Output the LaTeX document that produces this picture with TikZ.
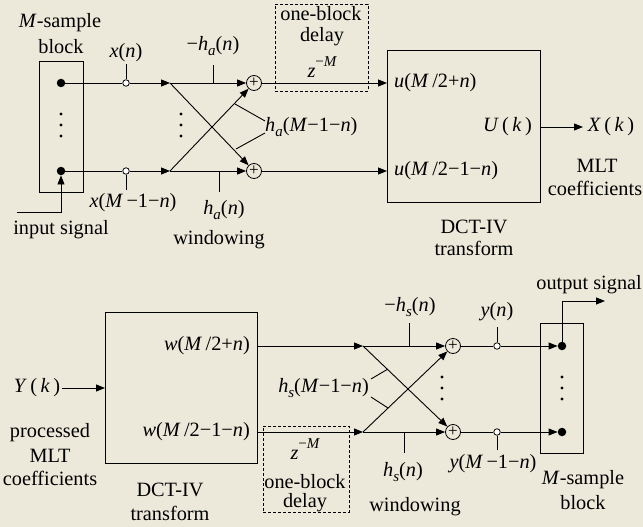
\documentclass[tikz,border=0pt]{standalone}
\usepackage{fontspec}
\setmainfont{Liberation Serif}
\usetikzlibrary{arrows.meta}
\definecolor{bgc}{RGB}{237,233,218}
\newcommand\vi[1]{\textit{#1}}
\newcommand\subs[1]{\raisebox{-0.28em}{\fontsize{15}{15}\selectfont\itshape #1}}
\newcommand\zM{\vi{z}\raisebox{0.55em}{\fontsize{15}{15}\selectfont −\itshape M}}
\begin{document}
\begin{tikzpicture}[x=1pt,y=-1pt,
  every node/.style={font=\fontsize{20.3}{23}\selectfont},
  ln/.style={line width=0.9pt},
  arr/.style={ln,-{Triangle[length=9pt,width=7pt]}},
  blk/.style={draw,line width=0.9pt,inner sep=0pt,anchor=north west},
  dbox/.style={draw,dash pattern=on 3pt off 2pt,line width=0.7pt,inner sep=0pt,anchor=north west},
  pc/.style={circle,draw,line width=0.8pt,inner sep=0pt,minimum size=15pt,font=\fontsize{17}{17}\selectfont},
  oc/.style={circle,draw,line width=0.8pt,fill=white,inner sep=0pt,minimum size=6.5pt},
  fd/.style={circle,fill,inner sep=0pt,minimum size=8.5pt},
  lbl/.style={inner sep=0pt,align=center}]
\useasboundingbox[fill=bgc] (0,0) rectangle (643,527);
% ================= TOP: analysis =================
\node[blk,minimum width=44pt,minimum height=131pt] (blkA) at (39,61) {};
\node[lbl] (msA) at (60,23) {\vi{M}-sample};
\node[lbl] (bkA) at (61,47) {block};
\node[fd] (d1) at (61,83) {};
\node[fd] (d2) at (61,171) {};
\foreach \yy in {114,125,136} \fill (61,\yy) circle (1.6);
\coordinate (in0) at (17,212);
\draw[arr] (in0) -| (d2);
\node[lbl] (insig) at (61,230) {input signal};
\node[oc] (o1) at (126,83) {};
\node[oc] (o2) at (126,171) {};
\coordinate (s1) at (170,83);
\coordinate (s2) at (170,171);
\node[pc] (p1) at (254,83) {+};
\node[pc] (p2) at (254,171) {+};
\draw[ln] (d1) -- (o1);
\draw[ln] (d2) -- (o2);
\draw[arr] (o1) -- (s1);
\draw[arr] (o2) -- (s2);
\draw[arr] (s1) -- (p1);
\draw[arr] (s2) -- (p2);
\draw[arr] (s1) -- (p2);
\draw[arr] (s2) -- (p1);
\foreach \yy in {114,125,136} \fill (181,\yy) circle (1.6);
% ticks and labels
\coordinate (tx1) at (126,64);
\coordinate (tx2) at (126,190);
\draw[ln] (o1) -- (tx1);
\draw[ln] (o2) -- (tx2);
\node[lbl] (lx1) at (126,53) {\vi{x}(\vi{n})};
\node[lbl] (lx2) at (133,203) {\vi{x}(\vi{M}\,−1−\vi{n})};
\coordinate (ta1) at (213,83);
\coordinate (ta1e) at (213,65);
\draw[ln] (ta1) -- (ta1e);
\node[lbl] (lha1) at (213,46) {−\vi{h}\subs{a}(\vi{n})};
\coordinate (ta2) at (219,171);
\coordinate (ta2e) at (219,192);
\draw[ln] (ta2) -- (ta2e);
\node[lbl] (lha2) at (224,210) {\vi{h}\subs{a}(\vi{n})};
\node[lbl] (winA) at (219,240) {windowing};
\node[lbl,anchor=west] (lhaM) at (265,127) {\vi{h}\subs{a}(\vi{M}−1−\vi{n})};
\coordinate (c1a) at (235,104);
\coordinate (c1b) at (265,121);
\coordinate (c2a) at (236,149);
\coordinate (c2b) at (265,133);
\draw[ln] (c1a) -- (c1b);
\draw[ln] (c2a) -- (c2b);
% delay box
\node[dbox,minimum width=93pt,minimum height=87pt] (dlA) at (275,4) {};
\node[lbl] (dlA1) at (321,14) {one-block};
\node[lbl] (dlA2) at (322,37) {delay};
\node[lbl] (dlA3) at (322,67) {\zM};
% DCT box
\node[blk,minimum width=153pt,minimum height=152pt] (dctA) at (387,50) {};
\draw[arr] (p1) -- (p1 -| dctA.west);
\draw[arr] (p2) -- (p2 -| dctA.west);
\node[lbl,anchor=west] (uA1) at (394,83) {\vi{u}(\vi{M}\,/2+\vi{n})};
\node[lbl,anchor=west] (uA2) at (394,171) {\vi{u}(\vi{M}\,/2−1−\vi{n})};
\node[lbl,anchor=east] (UkA) at (532,127) {\vi{U}\,(\,\vi{k}\,)};
\coordinate (outA) at (583,127);
\draw[arr] (UkA -| dctA.east) -- (outA);
\node[lbl] (XkA) at (611,127) {\vi{X}\,(\,\vi{k}\,)};
\node[lbl] (mltA) at (597,166) {MLT};
\node[lbl] (coefA) at (595,188) {coefficients};
\node[lbl] (dctA1) at (474,227) {DCT-IV};
\node[lbl] (dctA2) at (474,248) {transform};
% ================= BOTTOM: synthesis =================
\node[lbl] (YkB) at (37,388) {\vi{Y}\,(\,\vi{k}\,)};
\node[blk,minimum width=152pt,minimum height=151pt] (dctB) at (105,312) {};
\coordinate (yin) at (62,388);
\draw[arr] (yin) -- (yin -| dctB.west);
\node[lbl] (proc1) at (50,433) {processed};
\node[lbl] (proc2) at (50,456) {MLT};
\node[lbl] (proc3) at (50,478) {coefficients};
\node[lbl] (dctB1) at (170,490) {DCT-IV};
\node[lbl] (dctB2) at (170,513) {transform};
\node[lbl,anchor=east] (wB1) at (250,346) {\vi{w}(\vi{M}\,/2+\vi{n})};
\node[lbl,anchor=east] (wB2) at (250,432) {\vi{w}(\vi{M}\,/2−1−\vi{n})};
\coordinate (q1) at (363,346);
\coordinate (q2) at (363,432);
\draw[arr] (dctB.east |- q1) -- (q1);
\draw[arr] (dctB.east |- q2) -- (q2);
\node[pc] (pp1) at (453,346) {+};
\node[pc] (pp2) at (453,432) {+};
\draw[arr] (q1) -- (pp1);
\draw[arr] (q2) -- (pp2);
\draw[arr] (q1) -- (pp2);
\draw[arr] (q2) -- (pp1);
\foreach \yy in {377,388,399} \fill (442,\yy) circle (1.6);
% delay box
\node[dbox,minimum width=86pt,minimum height=86pt] (dlB) at (263,426) {};
\node[lbl] (dlB3) at (305,449) {\zM};
\node[lbl] (dlB1) at (305,482) {one-block};
\node[lbl] (dlB2) at (305,503) {delay};
% ticks
\coordinate (tb1) at (409,346);
\coordinate (tb1e) at (409,323);
\draw[ln] (tb1) -- (tb1e);
\node[lbl] (lhs1) at (410,307) {−\vi{h}\subs{s}(\vi{n})};
\coordinate (tb2) at (404,432);
\coordinate (tb2e) at (404,453);
\draw[ln] (tb2) -- (tb2e);
\node[lbl] (lhs2) at (403,472) {\vi{h}\subs{s}(\vi{n})};
\node[lbl] (winB) at (415,507) {windowing};
\node[lbl,anchor=east] (lhsM) at (369,388) {\vi{h}\subs{s}(\vi{M}−1−\vi{n})};
\coordinate (e1a) at (371,379);
\coordinate (e1b) at (388,369);
\coordinate (e2a) at (371,397);
\coordinate (e2b) at (388,408);
\draw[ln] (e1a) -- (e1b);
\draw[ln] (e2a) -- (e2b);
% outputs
\node[oc] (o3) at (497,346) {};
\node[oc] (o4) at (497,432) {};
\node[blk,minimum width=43pt,minimum height=130pt] (blkB) at (540,323) {};
\node[fd] (f1) at (562,346) {};
\node[fd] (f2) at (562,432) {};
\foreach \yy in {377,388,399} \fill (562,\yy) circle (1.6);
\draw[ln] (pp1) -- (o3);
\draw[ln] (pp2) -- (o4);
\draw[arr] (o3) -- (f1);
\draw[arr] (o4) -- (f2);
\coordinate (ty1) at (497,327);
\coordinate (ty2) at (497,450);
\draw[ln] (o3) -- (ty1);
\draw[ln] (o4) -- (ty2);
\node[lbl] (ly1) at (497,312) {\vi{y}(\vi{n})};
\node[lbl] (ly2) at (493,464) {\vi{y}(\vi{M}\,−1−\vi{n})};
\coordinate (outB) at (605,301);
\draw[arr] (f1.center) |- (outB);
\node[lbl,anchor=east] (osig) at (642,285) {output signal};
\node[lbl] (msB) at (583,480) {\vi{M}-sample};
\node[lbl] (bkB) at (583,503) {block};
\end{tikzpicture}
\end{document}
